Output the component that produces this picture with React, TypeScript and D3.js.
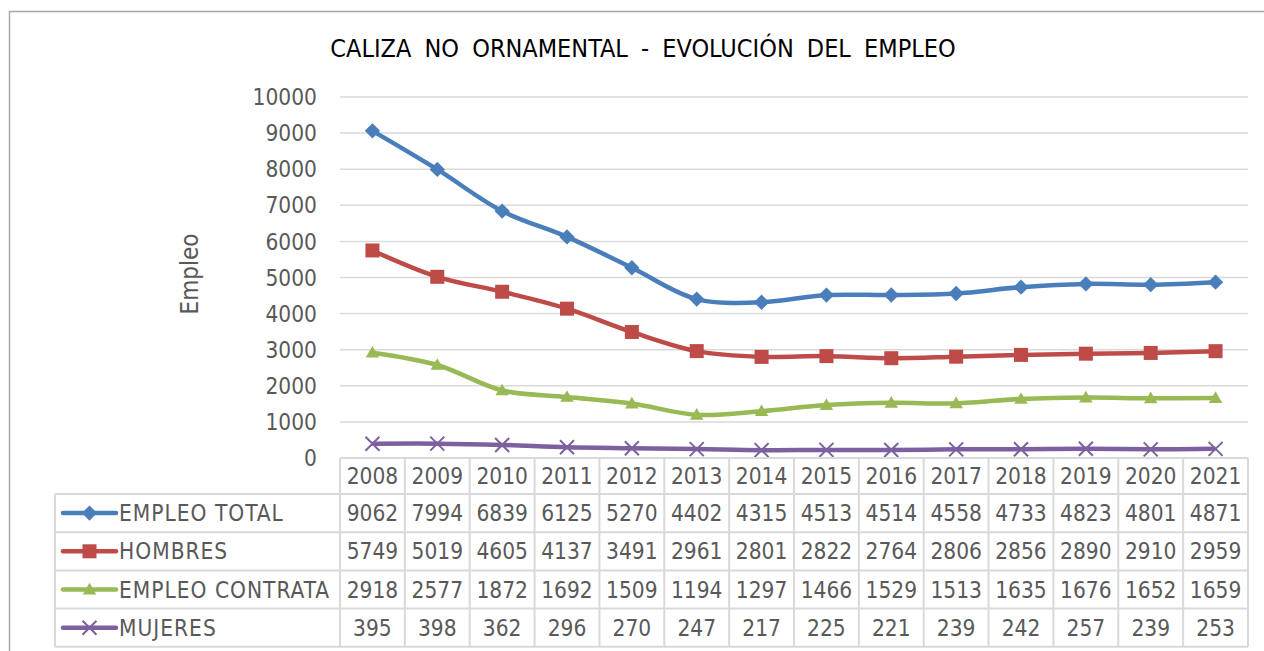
import * as d3 from 'd3';

const years = ['2008', '2009', '2010', '2011', '2012', '2013', '2014', '2015', '2016', '2017', '2018', '2019', '2020', '2021'];
const empleoTotal = [9062, 7994, 6839, 6125, 5270, 4402, 4315, 4513, 4514, 4558, 4733, 4823, 4801, 4871];
const hombres = [5749, 5019, 4605, 4137, 3491, 2961, 2801, 2822, 2764, 2806, 2856, 2890, 2910, 2959];
const empleoContrata = [2918, 2577, 1872, 1692, 1509, 1194, 1297, 1466, 1529, 1513, 1635, 1676, 1652, 1659];
const mujeres = [395, 398, 362, 296, 270, 247, 217, 225, 221, 239, 242, 257, 239, 253];
const yTicks = [0, 1000, 2000, 3000, 4000, 5000, 6000, 7000, 8000, 9000, 10000];

const series = [
  { name: 'EMPLEO TOTAL', values: empleoTotal, color: '#4A7EBB', marker: 'diamond' },
  { name: 'HOMBRES', values: hombres, color: '#BE4B48', marker: 'square' },
  { name: 'EMPLEO CONTRATA', values: empleoContrata, color: '#98B954', marker: 'triangle' },
  { name: 'MUJERES', values: mujeres, color: '#7D60A0', marker: 'x' },
];

const W = 1264;
const H = 651;
const font = "'DejaVu Sans Condensed', 'DejaVu Sans', sans-serif";
const textGrey = '#595959';
const gridGrey = '#D9D9D9';

const x = d3.scaleBand<string>().domain(years).range([340, 1248]);
const y = d3.scaleLinear().domain([0, 10000]).range([458, 97]);

const rowTop = 494;
const rowH = 38.2;
const labelLeft = 55;

function Marker({ type, cx, cy, color }: { type: string; cx: number; cy: number; color: string }) {
  if (type === 'diamond') {
    const s = d3.symbol(d3.symbolDiamond2, 150)();
    return <path d={s!} transform={`translate(${cx},${cy})`} fill={color} />;
  }
  if (type === 'square') {
    return <rect x={cx - 7} y={cy - 7} width={14} height={14} fill={color} />;
  }
  if (type === 'triangle') {
    const s = d3.symbol(d3.symbolTriangle2, 130)();
    return <path d={s!} transform={`translate(${cx},${cy + 1})`} fill={color} />;
  }
  const r = 7;
  return (
    <path
      d={`M${cx - r},${cy - r}L${cx + r},${cy + r}M${cx - r},${cy + r}L${cx + r},${cy - r}`}
      stroke={color}
      strokeWidth={2}
      fill="none"
    />
  );
}

export default function App() {
  const line = d3
    .line<number>()
    .x((_, i) => x(years[i])! + x.bandwidth() / 2)
    .y((d) => y(d))
    .curve(d3.curveCatmullRom.alpha(0.5));

  const colX = (i: number) => x(years[i])!;
  const rowsBottom = rowTop + rowH * series.length;

  return (
    <svg
      width={W}
      height={H}
      style={{ position: 'absolute', left: 0, top: 0, background: '#fff' }}
      fontFamily={font}
      fontStretch="condensed"
    >
      <rect x={9.5} y={11.5} width={W + 20} height={H + 20} fill="#fff" stroke="#A6A6A6" strokeWidth={1.5} />

      <text x={643} y={57} textAnchor="middle" fontSize={25} fill="#000" wordSpacing={6}>
        CALIZA NO ORNAMENTAL - EVOLUCIÓN DEL EMPLEO
      </text>

      {/* gridlines */}
      {yTicks.slice(1).map((t) => (
        <line key={t} x1={340} x2={1248} y1={y(t)} y2={y(t)} stroke={gridGrey} strokeWidth={1.5} />
      ))}

      {/* y tick labels */}
      {yTicks.map((t) => (
        <text key={t} x={317} y={y(t)} dy="0.36em" textAnchor="end" fontSize={22.5} fill={textGrey}>
          {t}
        </text>
      ))}

      <text
        transform={`translate(198,274) rotate(-90)`}
        textAnchor="middle"
        fontSize={24}
        fill={textGrey}
      >
        Empleo
      </text>

      {/* lines and markers */}
      {series.map((s) => (
        <g key={s.name}>
          <path d={line(s.values)!} fill="none" stroke={s.color} strokeWidth={4.5} strokeLinejoin="round" />
          {s.values.map((v, i) => (
            <Marker key={i} type={s.marker} cx={x(years[i])! + x.bandwidth() / 2} cy={y(v)} color={s.color} />
          ))}
        </g>
      ))}

      {/* data table */}
      <g stroke={gridGrey} strokeWidth={2} fill="none">
        <line x1={340} x2={1248} y1={458} y2={458} />
        {d3.range(series.length + 1).map((r) => (
          <line key={r} x1={labelLeft} x2={1248} y1={rowTop + r * rowH} y2={rowTop + r * rowH} />
        ))}
        <line x1={labelLeft} x2={labelLeft} y1={rowTop} y2={rowsBottom} />
        {d3.range(years.length + 1).map((i) => {
          const cx = i < years.length ? colX(i) : 1248;
          return <line key={i} x1={cx} x2={cx} y1={458} y2={rowsBottom} />;
        })}
      </g>

      {years.map((yr, i) => (
        <text
          key={yr}
          x={colX(i) + x.bandwidth() / 2}
          y={(458 + rowTop) / 2}
          dy="0.36em"
          textAnchor="middle"
          fontSize={22.5}
          fill={textGrey}
        >
          {yr}
        </text>
      ))}

      {series.map((s, r) => {
        const cy = rowTop + r * rowH + rowH / 2;
        return (
          <g key={s.name}>
            <line x1={63} x2={116} y1={cy} y2={cy} stroke={s.color} strokeWidth={4.5} strokeLinecap="round" />
            <Marker type={s.marker} cx={89.5} cy={cy} color={s.color} />
            <text x={119} y={cy} dy="0.36em" fontSize={22.5} fill={textGrey} letterSpacing={1}>
              {s.name}
            </text>
            {s.values.map((v, i) => (
              <text
                key={i}
                x={colX(i) + x.bandwidth() / 2}
                y={cy}
                dy="0.36em"
                textAnchor="middle"
                fontSize={22.5}
                fill={textGrey}
              >
                {v}
              </text>
            ))}
          </g>
        );
      })}
    </svg>
  );
}
